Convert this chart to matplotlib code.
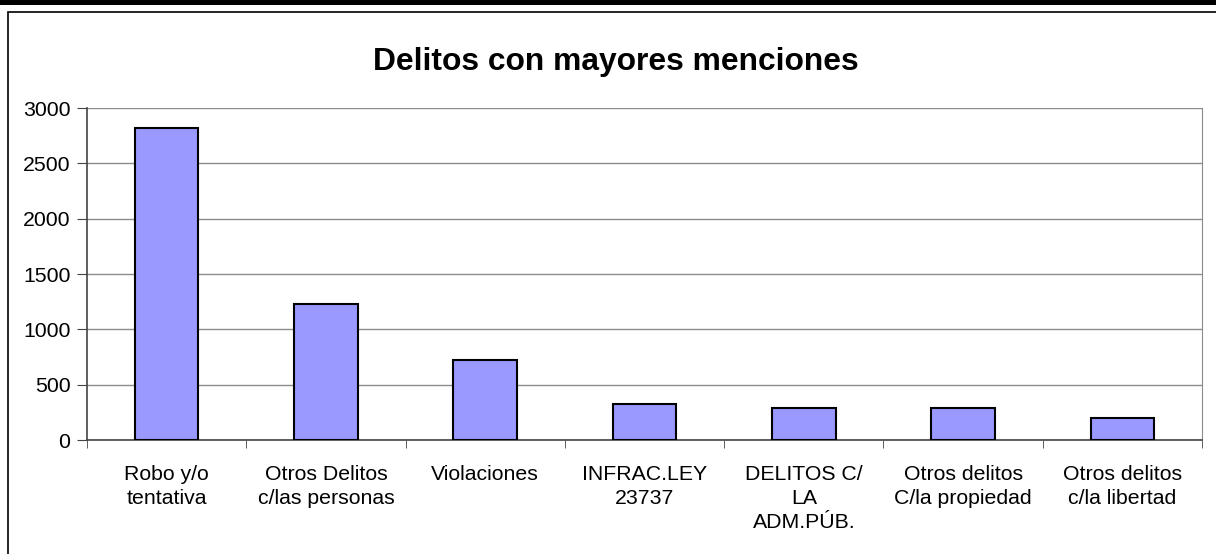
import matplotlib
matplotlib.use('Agg')
import matplotlib.pyplot as plt
from matplotlib.patches import Rectangle
import numpy as np

plt.rcParams['font.family'] = ['Liberation Sans', 'DejaVu Sans']

# data
categories = ['Robo y/o\ntentativa', 'Otros Delitos\nc/las personas', 'Violaciones',
              'INFRAC.LEY\n23737', 'DELITOS C/\nLA\nADM.PÚB.',
              'Otros delitos\nC/la propiedad', 'Otros delitos\nc/la libertad']
values = [2815, 1230, 720, 322, 289, 286, 201]
yticks = [0, 500, 1000, 1500, 2000, 2500, 3000]
title = 'Delitos con mayores menciones'

fig = plt.figure(figsize=(12.16, 5.54), dpi=100)

# black band at the top and the chart frame
fig.patches.append(Rectangle((0, 1 - 5/554), 1, 5/554, transform=fig.transFigure,
                             facecolor='black', edgecolor='none'))
fig.patches.append(Rectangle((8/1216, -0.1), 1.2, 1 - 11.5/554 + 0.1, transform=fig.transFigure,
                             facecolor='none', edgecolor='black', linewidth=1.2))

ax = fig.add_axes([87/1216, 1 - 440/554, (1202-87)/1216, (440-108)/554])
x = np.arange(len(categories))
ax.bar(x, values, width=0.4, color='#9999ff', edgecolor='black', linewidth=1.5, zorder=3)

ax.set_xlim(-0.5, len(categories) - 0.5)
ax.set_ylim(0, 3000)
ax.set_yticks(yticks)
ax.yaxis.grid(True, color='#8c8c8c', linewidth=1)
ax.set_axisbelow(True)

# category labels centered, ticks at boundaries
ax.set_xticks(x)
ax.set_xticklabels(categories, fontsize=15.3, linespacing=1.33)
ax.tick_params(axis='x', length=0, pad=18)
ax.set_xticks(np.arange(-0.5, len(categories)), minor=True)
ax.tick_params(axis='x', which='minor', length=6, color='#444444', direction='out')
ax.tick_params(axis='y', labelsize=15.3, length=7, color='#444444', pad=5)

ax.spines['top'].set_visible(False)
ax.spines['right'].set_color('#8c8c8c')
ax.spines['left'].set_color('#444444')
ax.spines['bottom'].set_color('#444444')
ax.spines['left'].set_linewidth(1.2)
ax.spines['bottom'].set_linewidth(1.2)

fig.text(616/1216, 1 - 62/554, title, ha='center', va='center', fontsize=22.9, fontweight='bold')

fig.savefig('out.png', dpi=100)
